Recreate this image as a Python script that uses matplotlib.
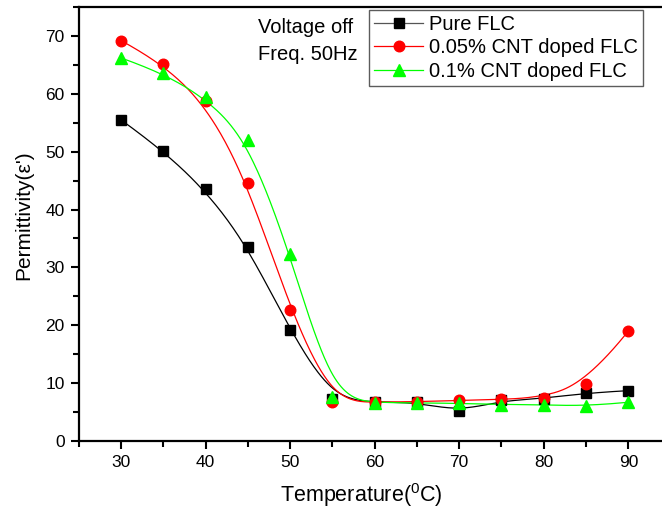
import numpy as np
import matplotlib
matplotlib.use("Agg")
import matplotlib.pyplot as plt
from matplotlib.ticker import MultipleLocator

temperature = [30, 35, 40, 45, 50, 55, 60, 65, 70, 75, 80, 85, 90]
pure_flc = [55.5, 50.2, 43.5, 33.6, 19.1, 7.3, 6.7, 6.7, 5.1, 7.0, 7.3, 8.3, 8.7]
cnt_005 = [69.2, 65.2, 58.7, 44.5, 22.7, 6.8, 6.7, 6.8, 7.0, 7.2, 7.5, 9.9, 19.0]
cnt_01 = [66.2, 63.6, 59.4, 52.1, 32.4, 7.6, 6.6, 6.6, 6.5, 6.3, 6.3, 6.0, 6.7]
labels = ["Pure FLC", "0.05% CNT doped FLC", "0.1% CNT doped FLC"]

plt.rcParams['font.family'] = ['Liberation Sans', 'DejaVu Sans']
plt.rcParams['mathtext.fontset'] = 'custom'
plt.rcParams['mathtext.rm'] = 'Liberation Sans'
plt.rcParams['mathtext.it'] = 'Liberation Sans:italic'


def bspline(x, y, n=400, k=3):
    P = np.column_stack([x, y]).astype(float)
    m = len(P)
    knots = np.concatenate([[0.0] * k, np.arange(m - k + 1, dtype=float), [float(m - k)] * k])
    t = np.linspace(0, m - k, n)
    nb = len(knots) - 1
    N = np.zeros((n, nb))
    for i in range(nb):
        N[:, i] = ((knots[i] <= t) & (t < knots[i + 1])).astype(float)
    last = np.max(np.where(knots[:-1] < knots[1:])[0])
    N[-1, :] = 0
    N[-1, last] = 1.0
    for p in range(1, k + 1):
        Nn = np.zeros((n, nb - p))
        for i in range(nb - p):
            d1 = knots[i + p] - knots[i]
            d2 = knots[i + p + 1] - knots[i + 1]
            a = (t - knots[i]) / d1 * N[:, i] if d1 > 0 else 0
            b = (knots[i + p + 1] - t) / d2 * N[:, i + 1] if d2 > 0 else 0
            Nn[:, i] = a + b
        N = Nn
    C = N @ P
    return C[:, 0], C[:, 1]


fig = plt.figure(figsize=(6.62, 5.12), dpi=100)
ax = fig.add_axes([78.7 / 662, 71 / 512, 591.9 / 662, 434 / 512])

series = [(pure_flc, 'black', 's', 6.8), (cnt_005, '#ff0000', 'o', 7.6), (cnt_01, '#00ff00', '^', 8.4)]
handles = []
for (vals, col, mk, ms), lab in zip(series, labels):
    sx, sy = bspline(temperature, vals)
    ax.plot(sx, sy, color=col, lw=0.9, zorder=2)
    ax.plot(temperature, vals, linestyle='none', marker=mk, color=col,
            markersize=ms, zorder=3, clip_on=False)
    h, = ax.plot([], [], color=col if col != 'black' else '#555555', lw=0.9,
                 marker=mk, markerfacecolor=col, markeredgecolor=col, markersize=ms)
    handles.append(h)

ax.set_xlim(25, 95)
ax.set_ylim(0, 75)
ax.xaxis.set_major_locator(MultipleLocator(10))
ax.xaxis.set_minor_locator(MultipleLocator(5))
ax.yaxis.set_major_locator(MultipleLocator(10))
ax.yaxis.set_minor_locator(MultipleLocator(5))
ax.set_xticks([30, 40, 50, 60, 70, 80, 90])
ax.tick_params(which='major', direction='out', length=6, width=1.5, labelsize=12.5, pad=4)
ax.tick_params(which='minor', direction='out', length=4, width=1.5)
for s in ax.spines.values():
    s.set_linewidth(1.6)

ax.set_xlabel('Temperature($^{0}$C)', fontsize=15.5)
ax.xaxis.set_label_coords((361 - 78.7) / 591.9, -(481 - 441) / 434)
ax.set_ylabel("Permittivity(ε')", fontsize=15)
ax.yaxis.set_label_coords(-(78.7 - 33) / 591.9, (441 - 215) / 434)

fig.text(258 / 662, 1 - 33 / 512, 'Voltage off', fontsize=14.5, va='baseline', ha='left')
fig.text(258 / 662, 1 - 60 / 512, 'Freq. 50Hz', fontsize=14.5, va='baseline', ha='left')

leg = ax.legend(handles, labels, loc='upper left', bbox_to_anchor=(369 / 662, 1 - 10 / 512),
                bbox_transform=fig.transFigure, borderaxespad=0, fontsize=14.5,
                fancybox=False, frameon=True, edgecolor='#333333', handlelength=2.45,
                handletextpad=0.3, labelspacing=0.22, borderpad=0.25, numpoints=1)
leg.get_frame().set_linewidth(1.0)

fig.savefig('out.png', dpi=100)
